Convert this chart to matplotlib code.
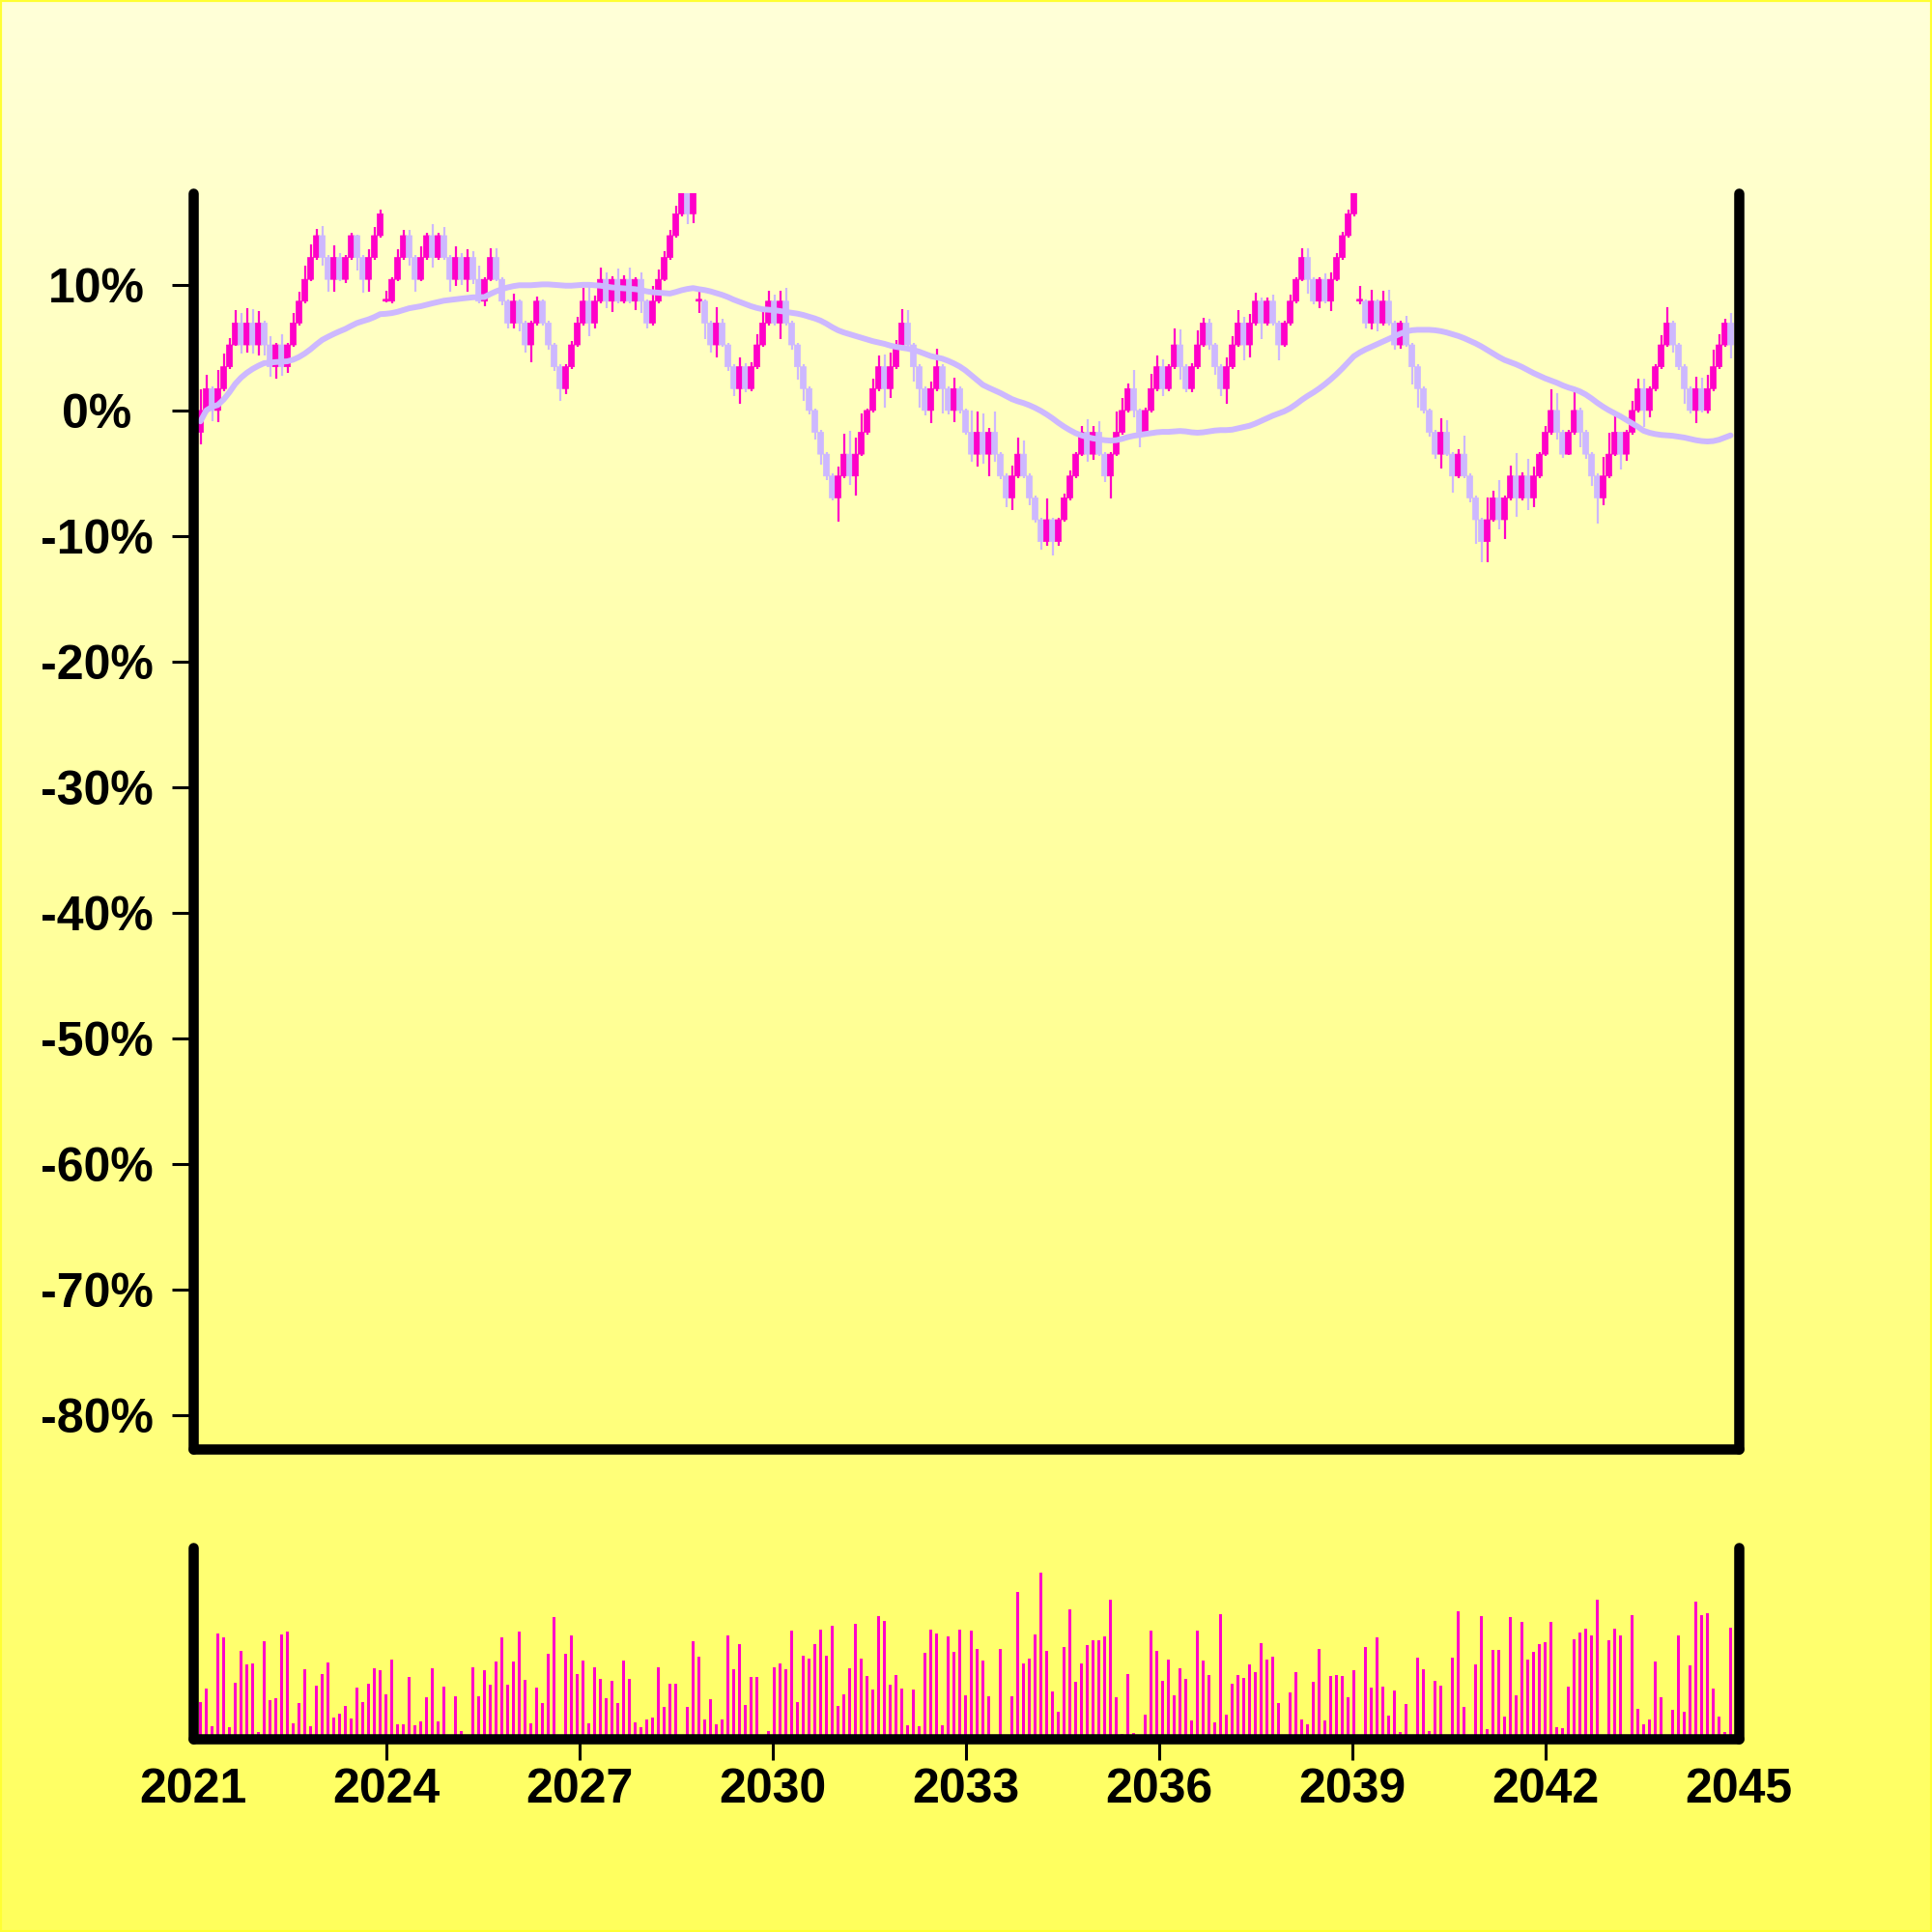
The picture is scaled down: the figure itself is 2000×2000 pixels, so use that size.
import numpy as np
import pandas as pd
import matplotlib
matplotlib.use("Agg")
import matplotlib.pyplot as plt
from matplotlib.colors import LinearSegmentedColormap
from matplotlib.patches import Rectangle

# price grid: one level = 1.74 % move
STEP = 1.74

# close of every candle, in price levels
close_lv = [
    0, 1, 0, 1, 2, 3, 4, 3, 4, 3,
    4, 3, 2, 3, 2, 3, 4, 5, 6, 7,
    8, 7, 6, 7, 6, 7, 8, 7, 6, 7,
    8, 9, 5, 6, 7, 8, 7, 6, 7, 8,
    7, 8, 7, 6, 7, 6, 7, 6, 5, 6,
    7, 6, 5, 4, 5, 4, 3, 4, 5, 4,
    3, 2, 1, 2, 3, 4, 5, 4, 5, 6,
    5, 6, 5, 6, 5, 6, 5, 4, 5, 6,
    7, 8, 9, 10, 9, 10, 5, 4, 3, 4,
    3, 2, 1, 2, 1, 2, 3, 4, 5, 4,
    5, 4, 3, 2, 1, 0, -1, -2, -3, -4,
    -3, -2, -3, -2, -1, 0, 1, 2, 1, 2,
    3, 4, 3, 2, 1, 0, 1, 2, 1, 0,
    1, 0, -1, -2, -1, -2, -1, -2, -3, -4,
    -3, -2, -3, -4, -5, -6, -5, -6, -5, -4,
    -3, -2, -1, -2, -1, -2, -3, -2, -1, 0,
    1, 0, -1, 0, 1, 2, 1, 2, 3, 2,
    1, 2, 3, 4, 3, 2, 1, 2, 3, 4,
    3, 4, 5, 4, 5, 4, 3, 4, 5, 6,
    7, 6, 5, 6, 5, 6, 7, 8, 9, 10,
    5, 4, 5, 4, 5, 4, 3, 4, 3, 2,
    1, 0, -1, -2, -1, -2, -3, -2, -3, -4,
    -5, -6, -5, -4, -5, -4, -3, -4, -3, -4,
    -3, -2, -1, 0, -1, -2, -1, 0, -1, -2,
    -3, -4, -3, -2, -1, -2, -1, 0, 1, 0,
    1, 2, 3, 4, 3, 2, 1, 0, 1, 0,
    1, 2, 3, 4, 3,
]

# candles that do not open at the previous close
open_reset = {0: -1, 32: 5, 86: 5, 200: 5}

# wick length above / below the body, in levels
wick_up = [
    0.96, 0.65, 0.1, 0.85, 0.62, 0.3, 0.58, 0.46, 0.7, 0.65,
    0.53, 0.1, 0.4, 0.1, 0.47, 0.1, 0.46, 0.43, 0.63, 0.59,
    0.3, 0.44, 0.1, 0.55, 0.22, 0.1, 0.12, 0.05, 0.1, 0.37,
    0.41, 0.18, 0.49, 0.1, 0.37, 0.27, 0.27, 0.1, 0.52, 0.12,
    0.53, 0.12, 0.38, 0.1, 0.52, 0.22, 0.37, 0.3, 0.63, 0.1,
    0.44, 0.44, 0.1, 0.1, 0.34, 0.1, 0.1, 0.1, 0.2, 0.1,
    0.1, 0.1, 0.1, 0.1, 0.18, 0.28, 0.6, 0.68, 0.24, 0.56,
    0.3, 0.12, 0.49, 0.19, 0.56, 0.1, 0.31, 0.1, 0.68, 0.46,
    0.3, 0.27, 0.37, 0.3, 0.1, 0.1, 0.46, 0.1, 0.1, 0.72,
    0.2, 0.1, 0.1, 0.43, 0.15, 0.2, 0.47, 0.5, 0.49, 0.31,
    0.46, 0.6, 0.1, 0.1, 0.1, 0.1, 0.1, 0.1, 0.1, 0.1,
    0.41, 0.94, 1.05, 0.75, 0.85, 0.1, 0.47, 0.53, 0.58, 0.65,
    0.22, 0.65, 0.6, 0.1, 0.1, 0.1, 0.32, 0.83, 0.1, 0.1,
    0.5, 0.1, 0.1, 1.0, 0.93, 0.85, 0.19, 0.93, 0.1, 0.1,
    0.46, 0.75, 0.63, 0.1, 0.1, 0.1, 0.99, 0.1, 0.1, 0.2,
    0.27, 0.09, 0.27, 0.6, 0.27, 0.5, 0.1, 0.1, 0.93, 0.59,
    0.25, 0.84, 0.1, 0.15, 0.69, 0.5, 0.35, 0.1, 0.77, 0.69,
    0.1, 0.15, 0.65, 0.24, 0.2, 0.1, 0.1, 0.43, 0.4, 0.58,
    0.28, 0.43, 0.38, 0.16, 0.15, 0.31, 0.1, 0.1, 0.31, 0.1,
    0.44, 0.44, 0.1, 0.1, 0.27, 0.31, 0.2, 0.19, 0.2, 0.2,
    0.68, 0.1, 0.53, 0.1, 0.49, 0.53, 0.1, 0.1, 0.35, 0.1,
    0.1, 0.1, 0.1, 0.1, 0.63, 0.56, 0.1, 0.24, 0.83, 0.1,
    0.1, 0.1, 1.02, 0.31, 0.83, 0.1, 0.46, 1.05, 0.15, 0.78,
    0.41, 0.09, 0.29, 0.96, 0.81, 0.1, 0.1, 0.91, 0.12, 0.1,
    0.1, 0.1, 0.86, 1.0, 0.78, 0.04, 0.1, 0.44, 0.47, 0.47,
    0.1, 0.1, 0.43, 0.72, 0.1, 0.1, 0.1, 0.1, 0.55, 0.5,
    0.62, 0.78, 0.47, 0.21, 0.46,
]
wick_dn = [
    0.55, 0.15, 0.5, 0.55, 0.1, 0.1, 0.05, 0.4, 0.37, 0.4,
    0.49, 0.49, 0.46, 0.56, 0.43, 0.28, 0.1, 0.1, 0.1, 0.1,
    0.1, 0.37, 0.55, 0.58, 0.1, 0.18, 0.1, 0.59, 0.62, 0.58,
    0.1, 0.1, 0.06, 0.1, 0.1, 0.1, 0.37, 0.55, 0.1, 0.1,
    0.44, 0.1, 0.1, 0.57, 0.32, 0.25, 0.57, 0.22, 0.1, 0.25,
    0.1, 0.1, 0.2, 0.26, 0.26, 0.38, 0.37, 0.78, 0.1, 0.1,
    0.2, 0.2, 0.56, 0.27, 0.1, 0.1, 0.1, 0.6, 0.26, 0.1,
    0.3, 0.5, 0.1, 0.1, 0.1, 0.4, 0.55, 0.24, 0.1, 0.1,
    0.1, 0.1, 0.1, 0.1, 0.47, 0.41, 0.55, 0.72, 0.34, 0.56,
    0.1, 0.2, 0.34, 0.68, 0.15, 0.1, 0.1, 0.1, 0.1, 0.1,
    0.75, 0.1, 0.2, 0.6, 0.56, 0.2, 0.35, 0.5, 0.2, 0.13,
    1.09, 0.1, 0.43, 0.88, 0.1, 0.1, 0.1, 0.1, 0.85, 0.41,
    0.1, 0.1, 0.2, 0.7, 0.85, 0.22, 0.59, 0.1, 1.15, 0.2,
    0.52, 0.15, 0.1, 0.35, 0.57, 0.43, 1.0, 0.35, 0.15, 0.43,
    0.58, 0.1, 0.1, 0.35, 0.15, 0.37, 0.19, 0.63, 0.19, 0.1,
    0.1, 0.1, 0.1, 0.33, 0.28, 0.1, 0.28, 1.02, 0.1, 0.1,
    0.1, 0.32, 0.69, 0.15, 0.1, 0.1, 0.34, 0.1, 0.1, 0.6,
    0.15, 0.15, 0.1, 0.1, 0.2, 0.37, 0.34, 0.71, 0.1, 0.1,
    0.71, 0.56, 0.1, 0.75, 0.1, 0.1, 0.71, 0.1, 0.1, 0.1,
    0.1, 0.66, 0.15, 0.31, 0.1, 0.43, 0.1, 0.1, 0.1, 0.1,
    0.13, 0.26, 0.31, 0.38, 0.1, 0.1, 0.2, 0.19, 0.1, 0.82,
    0.85, 0.15, 0.2, 0.21, 0.65, 0.1, 0.77, 0.1, 0.1, 0.2,
    1.12, 0.93, 0.96, 0.1, 0.43, 0.87, 0.1, 0.87, 0.1, 0.58,
    0.43, 0.1, 0.1, 0.1, 0.32, 0.15, 0.06, 0.1, 0.69, 0.2,
    0.47, 1.17, 0.35, 0.1, 0.1, 0.72, 0.32, 0.1, 0.1, 0.74,
    0.32, 0.1, 0.1, 0.1, 0.37, 0.15, 0.68, 0.15, 0.56, 0.1,
    0.15, 0.1, 0.1, 0.1, 0.6,
]

volume = [
    38.3, 51.7, 13.3, 109, 105, 11.7, 57.7, 91.3, 76.7, 78.3,
    7.3, 100.7, 40, 41.7, 108.3, 110.7, 16, 37.3, 72.3, 12.7,
    54.7, 66.7, 79, 22, 26, 34.3, 20.7, 53.3, 38.3, 57.3,
    72.7, 71, 45.7, 82.3, 15, 15, 64, 14.3, 18, 43.3,
    73.3, 18.3, 54.3, 0, 44, 7.7, 0, 74.3, 43.7, 71.3,
    56, 80.3, 105, 55.7, 80, 111, 60.7, 15.7, 53.3, 36.7,
    87.7, 125.7, 0, 87.7, 107, 66.7, 81, 15.7, 74.3, 62.3,
    41.7, 60.3, 36.7, 81.3, 62.3, 17.3, 11.7, 20, 22.3, 74,
    33, 57.3, 57.3, 0, 33, 101, 85, 20.3, 40.7, 15,
    20.3, 106.7, 71.7, 98.3, 35, 64, 64, 0, 8.3, 74.3,
    78.3, 72, 112, 38.3, 86.3, 83.3, 98.3, 113.3, 85.7, 117,
    34, 46.3, 73.3, 119.3, 82.7, 65, 50.7, 127.3, 122.3, 55.7,
    66.3, 52.3, 14.3, 50.7, 13, 88.7, 113, 109, 14, 106.3,
    90.3, 113, 45, 111.7, 92.7, 81.3, 44, 0, 93, 4.3,
    44, 151.7, 78.3, 83, 108.3, 171.7, 91, 49, 28, 95,
    134.3, 59.3, 78, 97.3, 101.7, 102.3, 106.3, 144, 43.3, 4.7,
    67, 6, 1.3, 25, 111.7, 90.7, 60, 82, 45.3, 72.7,
    62.3, 19.3, 111.7, 80.7, 66, 17.3, 129.3, 25, 57, 65.7,
    63.3, 77, 68.7, 98.7, 81.7, 84.7, 37.3, 0, 48.3, 69.3,
    19.7, 14.7, 59.3, 93, 19.3, 65, 66, 64.7, 43.3, 70.7,
    4.3, 95.3, 53.3, 105, 54.3, 24, 50.3, 7.3, 36.3, 0,
    84.3, 72, 8, 60, 55.3, 0, 84, 131.7, 33.3, 3.3,
    76.7, 126.7, 10, 92.3, 92.3, 23.3, 126, 45.3, 121.3, 82.3,
    90, 98, 100.3, 121, 11.7, 11.3, 54, 103.3, 110, 114,
    106.7, 144.3, 3.7, 101.7, 114, 107.3, 0, 128, 31.3, 15,
    20, 79.7, 43.3, 0, 30, 107.3, 28.3, 76.3, 141.7, 128.3,
    129.7, 52, 23.3, 7, 115.3,
]

year_ticks = [2021, 2024, 2027, 2030, 2033, 2036, 2039, 2042, 2045]
pct_ticks = [10, 0, -10, -20, -30, -40, -50, -60, -70, -80]

UP = "#FF00C8"
DOWN = "#CDB8FF"

n = len(close_lv)
x = 2021.1125 + 0.09 * np.arange(n)   # one candle every 0.09 year

close = np.array(close_lv, dtype=float)
opn = np.r_[np.nan, close[:-1]]
for i, v in open_reset.items():
    opn[i] = v
close = close * STEP
opn = opn * STEP
body_top = np.maximum(opn, close)
body_bot = np.minimum(opn, close)
high = body_top + np.array(wick_up) * STEP
low = body_bot - np.array(wick_dn) * STEP
colors = [UP if c >= o else DOWN for o, c in zip(opn, close)]

ma = pd.Series((opn + close) / 2).rolling(50, min_periods=1).mean()

plt.rcParams["font.family"] = ["Liberation Sans", "DejaVu Sans"]
plt.rcParams["font.weight"] = "bold"

fig = plt.figure(figsize=(20, 20), dpi=100)

# yellow gradient background
bg = fig.add_axes([0, 0, 1, 1], zorder=-10)
cmap = LinearSegmentedColormap.from_list("bg", ["#FFFFD8", "#FFFF5C"])
bg.imshow(np.linspace(0, 1, 256).reshape(-1, 1), cmap=cmap, aspect="auto",
          extent=[0, 1, 0, 1])
bg.axis("off")
fig.patches.append(Rectangle((0, 0), 1, 1, transform=fig.transFigure,
                             fill=False, edgecolor="#FFFF33", linewidth=3))

ax = fig.add_axes([0.1, 0.25, 0.8, 0.65])
vax = fig.add_axes([0.1, 0.1, 0.8, 0.099])

# candles
heights = np.where(body_top - body_bot < 0.01, 0.15, body_top - body_bot)
ax.vlines(x, low, high, colors=colors, linewidth=1.6, zorder=2)
bars = ax.bar(x, heights, bottom=body_bot, width=0.092, color=colors,
              edgecolor=colors, linewidth=0.5, zorder=3)
for b in bars:
    b.set_snap(False)
ax.plot(x, ma, color=DOWN, linewidth=4.3, zorder=4, solid_capstyle="round")

ax.set_xlim(2021, 2045)
ax.set_ylim(-82.7, 17.3)
ax.set_yticks(pct_ticks)
ax.set_yticklabels([f"{t}%" for t in pct_ticks], ha="center")
ax.tick_params(axis="y", direction="out", length=15.8, width=2.2,
               pad=56, labelsize=36)
ax.tick_params(axis="x", bottom=False, labelbottom=False)

# volume
vax.bar(x, volume, width=0.042, color=UP, linewidth=0)
vax.set_xlim(2021, 2045)
vax.set_ylim(0, 198)
vax.set_xticks(year_ticks)
vax.set_xticklabels([str(y) for y in year_ticks])
vax.tick_params(axis="x", direction="out", length=15.8, width=2.2,
                pad=6, labelsize=36)
vax.tick_params(axis="y", left=False, labelleft=False)
ticks = vax.xaxis.get_major_ticks()
ticks[0].tick1line.set_visible(False)
ticks[-1].tick1line.set_visible(False)

for a in (ax, vax):
    a.set_facecolor("none")
    a.spines["top"].set_visible(False)
    for s in ("left", "right", "bottom"):
        a.spines[s].set_linewidth(7.6)
        a.spines[s].set_capstyle("round")
        a.spines[s].set_color("black")
        a.spines[s].set_zorder(5)

fig.savefig("out.png", dpi=100)
